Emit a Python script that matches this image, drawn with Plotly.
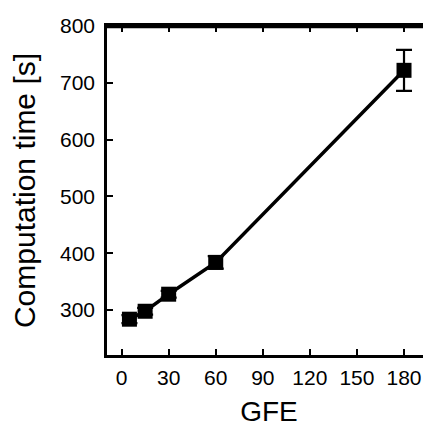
import plotly.graph_objects as go

gfe = [5, 15, 30, 60, 180]
time_s = [284, 298, 328, 384, 722]
err = [7, 6, 6, 11, 36]
x_ticks = [0, 30, 60, 90, 120, 150, 180]
y_ticks = [300, 400, 500, 600, 700, 800]
x_range = [-9.3, 197.2]
y_range = [221, 800]

fig = go.Figure()
fig.add_trace(go.Scatter(
    x=gfe, y=time_s, mode="lines+markers",
    line=dict(color="black", width=3.5),
    marker=dict(symbol="square", size=15, color="black"),
    error_y=dict(type="data", array=err, visible=True, color="black", thickness=2.2, width=8),
    showlegend=False,
))

# top frame line (drawn explicitly as well as mirrored)
fig.add_shape(type="line", xref="paper", yref="paper", x0=0, x1=1, y0=0.997, y1=0.997,
              line=dict(color="black", width=2.5), layer="above")

font = "Liberation Sans, Arial, sans-serif"
# the page body adds an 8px offset, so the figure is sized/placed to compensate
fig.update_layout(
    width=423, height=425,
    margin=dict(l=99, r=0, t=18, b=78),
    plot_bgcolor="white", paper_bgcolor="white",
    font=dict(family=font, color="black"),
    xaxis=dict(
        range=x_range, tickvals=x_ticks, ticks="inside", ticklen=6, tickwidth=2,
        tickcolor="black", showline=True, linecolor="black", linewidth=2.5, mirror="ticks",
        showgrid=False, zeroline=False, tickfont=dict(size=21), ticklabelstandoff=2,
        title=dict(text="GFE", font=dict(size=28), standoff=14),
    ),
    yaxis=dict(
        range=y_range, tickvals=y_ticks, ticks="inside", ticklen=6, tickwidth=2,
        tickcolor="black", showline=True, linecolor="black", linewidth=2.5,
        showgrid=False, zeroline=False, tickfont=dict(size=21), ticklabelstandoff=5,
        title=dict(text="Computation time [s]", font=dict(size=30), standoff=20),
    ),
)
fig.write_html("out.html", config={"displayModeBar": False})
